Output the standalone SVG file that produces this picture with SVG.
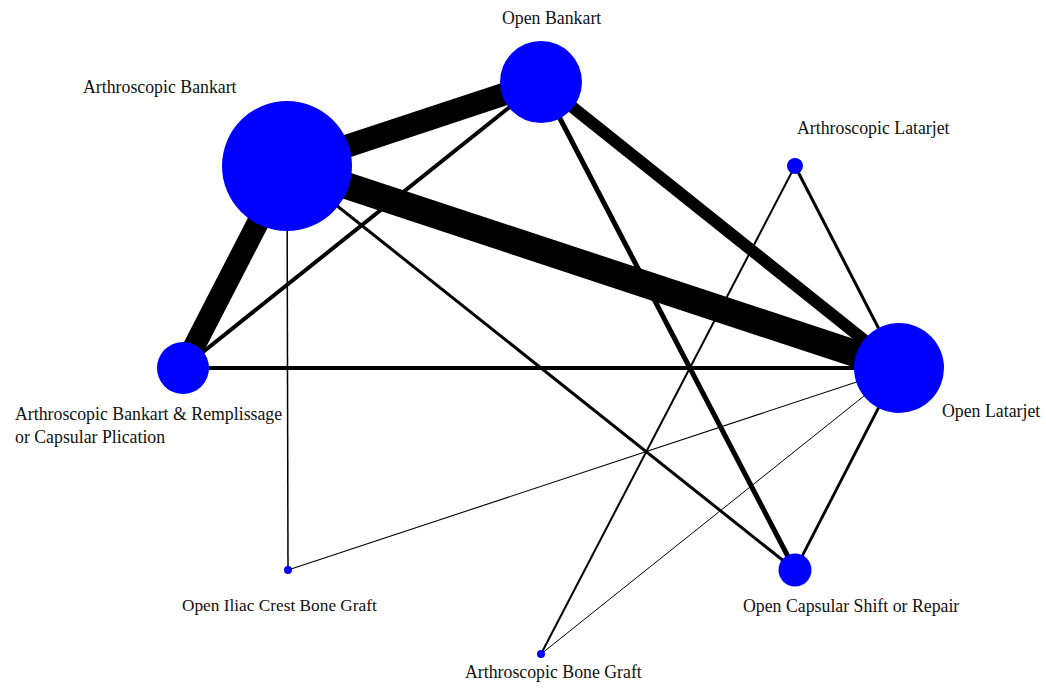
<svg xmlns="http://www.w3.org/2000/svg" width="1046" height="692" viewBox="0 0 1046 692">
<style>
.e{stroke:#000;fill:none;stroke-linecap:butt}
.n{fill:#0000ff}
.t{font-family:"Liberation Serif","Times New Roman",serif;font-size:17.8px;fill:#111}
</style>
<rect width="1046" height="692" fill="#fff"/>
<g id="connectors">
<line class="e" x1="287" y1="166" x2="541" y2="82" stroke-width="23"/>
<line class="e" x1="287" y1="166" x2="899" y2="368" stroke-width="27"/>
<line class="e" x1="287" y1="166" x2="183" y2="368" stroke-width="22"/>
<line class="e" x1="541" y1="82" x2="899" y2="368" stroke-width="12"/>
<line class="e" x1="541" y1="82" x2="183" y2="368" stroke-width="4"/>
<line class="e" x1="541" y1="82" x2="795" y2="570" stroke-width="5"/>
<line class="e" x1="287" y1="166" x2="795" y2="570" stroke-width="3"/>
<line class="e" x1="287" y1="166" x2="288" y2="570" stroke-width="1.5"/>
<line class="e" x1="183" y1="368" x2="899" y2="368" stroke-width="4"/>
<line class="e" x1="795" y1="166" x2="899" y2="368" stroke-width="3"/>
<line class="e" x1="795" y1="166" x2="541" y2="654" stroke-width="2"/>
<line class="e" x1="899" y1="368" x2="288" y2="570" stroke-width="1.1"/>
<line class="e" x1="899" y1="368" x2="541" y2="654" stroke-width="1"/>
<line class="e" x1="899" y1="368" x2="795" y2="570" stroke-width="2.8"/>
</g>
<g id="node-arthroscopic-bankart">
<circle class="n" cx="287" cy="166" r="65"/>
<text class="t" x="83" y="93">Arthroscopic Bankart</text>
</g>
<g id="node-open-bankart">
<circle class="n" cx="541" cy="82" r="41"/>
<text class="t" x="502" y="24">Open Bankart</text>
</g>
<g id="node-arthroscopic-latarjet">
<circle class="n" cx="795" cy="166" r="8"/>
<text class="t" x="797" y="134">Arthroscopic Latarjet</text>
</g>
<g id="node-open-latarjet">
<circle class="n" cx="899" cy="368" r="45"/>
<text class="t" x="942" y="417">Open Latarjet</text>
</g>
<g id="node-arthroscopic-bankart-remplissage">
<circle class="n" cx="183" cy="368" r="26"/>
<text class="t" x="15" y="420">Arthroscopic Bankart &amp; Remplissage</text>
<text class="t" x="15" y="443">or Capsular Plication</text>
</g>
<g id="node-open-iliac-crest-bone-graft">
<circle class="n" cx="288" cy="570" r="4"/>
<text class="t" x="182" y="611" style="font-size:17.3px">Open Iliac Crest Bone Graft</text>
</g>
<g id="node-open-capsular-shift">
<circle class="n" cx="795" cy="570" r="16.5"/>
<text class="t" x="743" y="612">Open Capsular Shift or Repair</text>
</g>
<g id="node-arthroscopic-bone-graft">
<circle class="n" cx="541" cy="654" r="4"/>
<text class="t" x="465" y="678">Arthroscopic Bone Graft</text>
</g>
</svg>
